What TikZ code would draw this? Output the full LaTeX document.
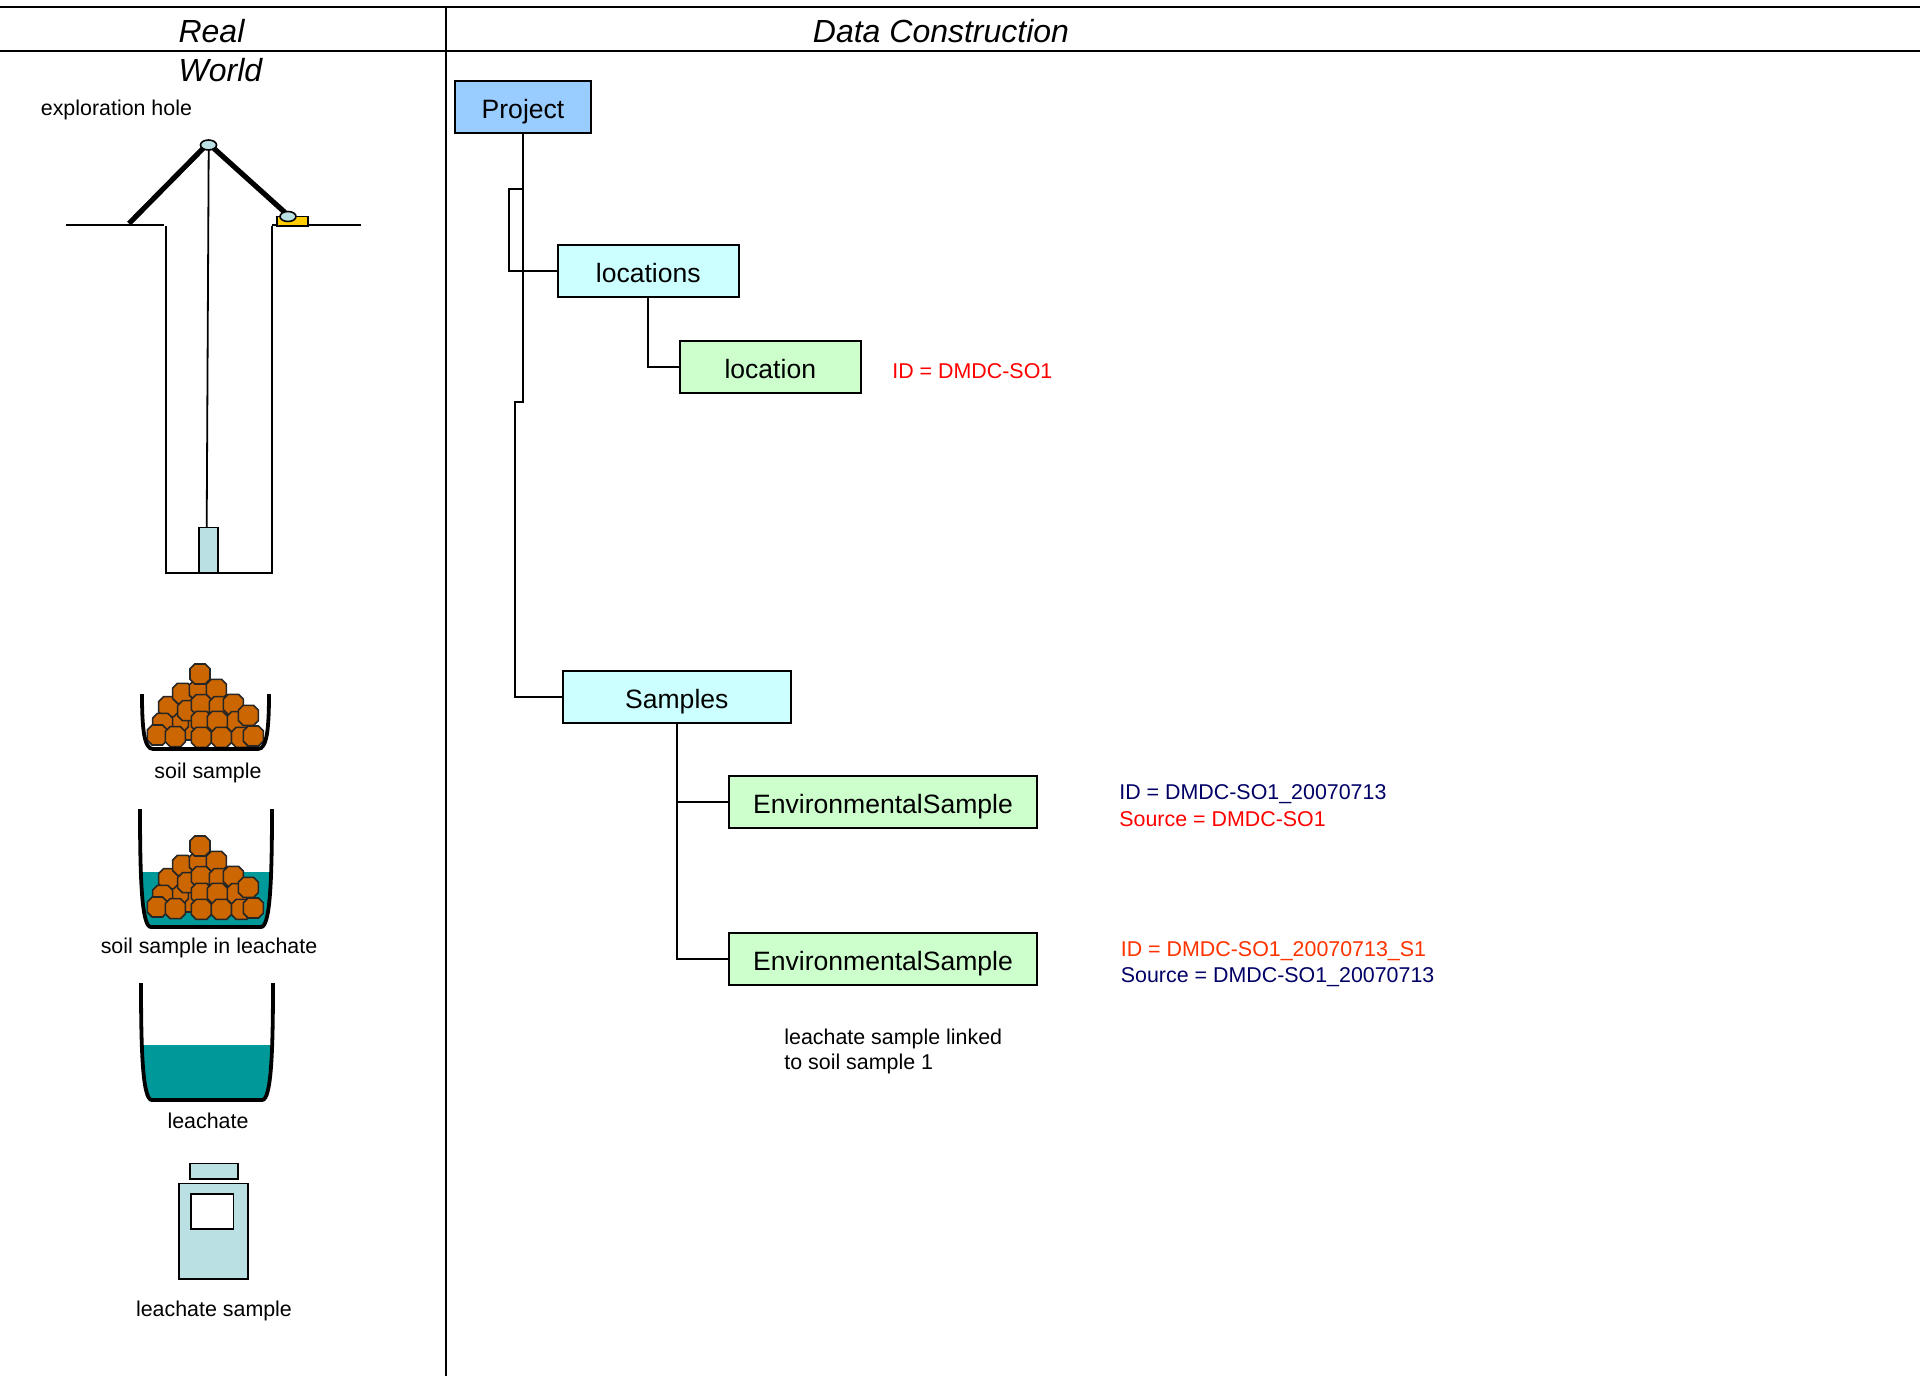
\documentclass[tikz,border=0pt]{standalone}
\usepackage{fontspec}
\setmainfont{Liberation Sans}
\definecolor{projblue}{HTML}{99CCFF}
\definecolor{paleCyan}{HTML}{CCFFFF}
\definecolor{paleGreen}{HTML}{CCFFCC}
\definecolor{steel}{HTML}{BBE0E3}
\definecolor{soil}{HTML}{CC6600}
\definecolor{leach}{HTML}{009999}
\definecolor{amber}{HTML}{FFCC00}
\definecolor{navy}{HTML}{000066}
\definecolor{orangered}{HTML}{FF3300}
\tikzset{
  boxbase/.style={draw=black,line width=1pt,inner sep=0pt,minimum height=26pt,text height=11.7pt,text depth=0pt,font=\fontsize{13.27}{15}\selectfont},
  rootbox/.style={boxbase,fill=projblue,minimum width=67.8pt},
  groupbox/.style={boxbase,fill=paleCyan},
  itembox/.style={boxbase,fill=paleGreen},
  link/.style={draw=black,line width=1pt},
  heading/.style={font=\fontsize{16}{18}\selectfont\itshape,inner sep=0pt},
  caption/.style={font=\fontsize{10.7}{12.7}\selectfont,inner sep=0pt,text=black},
  note/.style={caption,anchor=west},
  rule/.style={line width=1.15pt,draw=black},
  ground/.style={line width=1pt,draw=black},
  strut/.style={line width=2.6pt,draw=black},
  octa/.style={draw=black!85,line width=0.8pt,fill=soil},
  pail/.style={draw=black,line width=1.9pt},
  equip/.style={draw=black,line width=0.8pt,fill=steel}
}
\newcommand{\soilpile}[1]{%
  \foreach \a/\b in {155/210,115/185,86/140,128/100,143/152,178/90,229/88,180/42,184/134,238/140,280/133,290/185,325/166,184/184,232/184,68/190,304/232,52/225,106/230,184/232,244/232,340/228}{%
    \draw[octa] ({140+\a/3},{660+\b/3+#1}) ++(-10,-5.2) -- ++(0,10.4) -- ++(4.8,4.8) -- ++(10.4,0) -- ++(4.8,-4.8) -- ++(0,-10.4) -- ++(-4.8,-4.8) -- ++(-10.4,0) -- cycle;
  }}
% left x, right x, top y, bottom y
\newcommand{\pailshape}[4]{(#1,#3) .. controls (#1,{#3+0.62*(#4-#3)}) and ({#1+2},#4) .. ({#1+11},#4) -- ({#2-11},#4) .. controls ({#2-2},#4) and (#2,{#3+0.62*(#4-#3)}) .. (#2,#3)}
\begin{document}
\begin{tikzpicture}[x=0.5pt,y=-0.5pt]
\useasboundingbox (0,0) rectangle (1920,1376);
\fill[white] (0,0) rectangle (1920,1376);

% table frame
\draw[rule] (0,7) -- (1920,7);
\draw[rule] (0,51) -- (1920,51);
\draw[rule] (446,7) -- (446,1376);
\node[heading] (hreal) at (211.5,31) {Real};
\node[heading] (hworld) at (220.5,70) {World};
\node[heading] (hdata) at (941,31) {Data Construction};

% exploration hole
\node[note] (lhole) at (40.5,109.5) {exploration hole};
\draw[ground] (66,225) -- (164,225);
\draw[ground] (272,225) -- (361,225);
\draw[ground] (166,226) -- (166,573) -- (272,573) -- (272,226);
\draw[line width=0.9pt] (208.7,150) -- (206.7,527);
\draw[equip] (198.7,527.5) rectangle (218,573);
\draw[strut] (129,223.5) -- (203,148.5);
\draw[strut] (214,148.5) -- (285,212.5);
\draw[line width=0.8pt,fill=amber] (277,216.5) rectangle (308,226);
\draw[equip] (208.5,145) ellipse [x radius=8,y radius=5];
\draw[equip] (288,216.5) ellipse [x radius=8,y radius=5];

% soil sample
\soilpile{0}
\draw[pail] \pailshape{142}{269}{694}{749};
\node[caption] (lsoil) at (208,772.5) {soil sample};

% soil sample in leachate
\begin{scope}
  \clip \pailshape{140}{272}{809}{927} -- cycle;
  \fill[leach] (130,872) rectangle (282,930);
\end{scope}
\soilpile{172}
\draw[pail] \pailshape{140}{272}{809}{927};
\node[caption] (lsoilleach) at (209,948) {soil sample in leachate};

% leachate
\begin{scope}
  \clip \pailshape{141}{273}{983}{1100} -- cycle;
  \fill[leach] (130,1045) rectangle (282,1103);
\end{scope}
\draw[pail] \pailshape{141}{273}{983}{1100};
\node[caption] (lleach) at (208,1120.5) {leachate};

% leachate sample bottle
\draw[equip] (190,1163.5) rectangle (238,1179);
\draw[equip] (178.7,1183.5) rectangle (248,1279);
\draw[line width=0.9pt,draw=black,fill=white] (191,1194) rectangle (233.5,1229);
\node[caption] (lbottle) at (214,1310.5) {leachate sample};

% data tree
\node[rootbox] (project) at (523,107) {Project};
\node[groupbox,minimum width=90.3pt] (locations) at (648.3,271) {locations};
\node[itembox,minimum width=90.3pt] (location) at (770.3,367) {location};
\node[groupbox,minimum width=113.8pt] (samples) at (676.8,696.5) {Samples};
\node[itembox,minimum width=153.7pt] (envone) at (883,802) {EnvironmentalSample};
\node[itembox,minimum width=153.7pt] (envtwo) at (883,959) {EnvironmentalSample};

\coordinate (bendA) at (523,189);
\coordinate (bendB) at (509,189);
\coordinate (bendC) at (523,401.5);
\coordinate (bendD) at (515,401.5);
\draw[link] (project.south) -- (bendA) -- (bendB) |- (locations.west);
\draw[link] (project.south) -- (bendC) -- (bendD) |- (samples.west);
\draw[link] (locations.south) |- (location.west);
\draw[link] (samples.south) |- (envone.west);
\draw[link] (samples.south) |- (envtwo.west);

% annotations
\node[note,text=red] (idloc) at (892,371.5) {ID = DMDC-SO1};
\node[note,text=navy] (idone) at (1119,794.5) {ID = DMDC-SO1\_20070713};
\node[note,text=red] (srcone) at (1119,819.5) {Source = DMDC-SO1};
\node[note,text=orangered] (idtwo) at (1120.5,951) {ID = DMDC-SO1\_20070713\_S1};
\node[note,text=navy] (srctwo) at (1120.5,977) {Source = DMDC-SO1\_20070713};
\node[note,align=left] (lnote) at (784,1051.5) {leachate sample linked\\to soil sample 1};
\end{tikzpicture}
\end{document}
